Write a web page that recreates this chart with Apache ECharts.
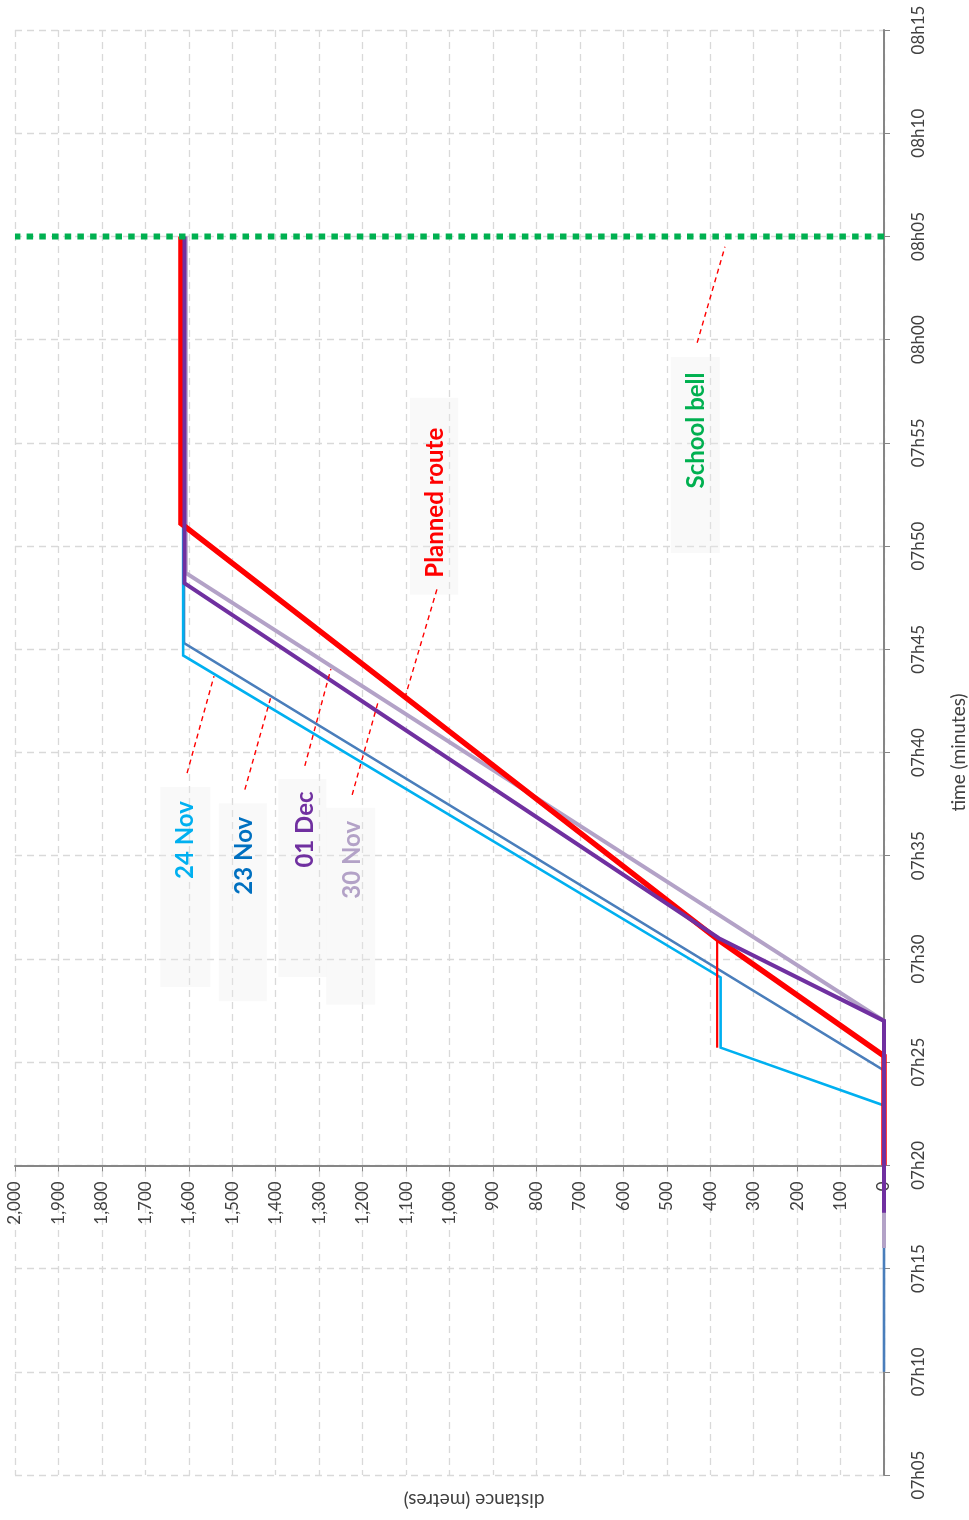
<!DOCTYPE html>
<html>
<head>
<meta charset="utf-8">
<title>Walk to school – distance over time</title>
<script src="https://cdn.jsdelivr.net/npm/echarts@6/dist/echarts.min.js"></script>
<style>
  html, body { margin: 0; padding: 0; background: #ffffff; }
  #chart { width: 969px; height: 1520px; }
</style>
</head>
<body>
<div id="chart"></div>
<script>
// Times are minutes past 07:00, distances in metres.
const AXIS_ORIGIN = 20;           // 07h20: the distance axis crosses here
const timeMin = 5, timeMax = 75;  // 07h05 .. 08h15

const timeLabels = ['07h05', '07h10', '07h15', '07h20', '07h25', '07h30', '07h35',
  '07h40', '07h45', '07h50', '07h55', '08h00', '08h05', '08h10', '08h15'];

const plannedTime = [20, 25.3, 30.9, 51.1, 65];
const plannedDist = [0, 0, 380, 1618, 1618];

const stopTime = [25.7, 30.9];
const stopDist = [384, 384];

const nov24Time = [19, 22.9, 25.7, 29.1, 44.7, 65];
const nov24Dist = [0, 0, 376, 376, 1613, 1613];

const nov23Time = [10, 24.6, 45.3, 65];
const nov23Dist = [0, 0, 1611, 1611];

const nov30Time = [16, 27, 48.7, 65];
const nov30Dist = [0, 0, 1607, 1607];

const dec01Time = [17.7, 27, 31, 48.2, 65];
const dec01Dist = [0, 0, 380, 1610, 1610];

const bellTime = [65, 65];
const bellDist = [0, 2000];

const FONT = 'Lato, "Open Sans", sans-serif';

// plot box
const W = 969, H = 1520;
const PLOT = { left: 15, right: 85, top: 30, bottom: 45 };
const plotH = H - PLOT.top - PLOT.bottom;
// pixel row of 07h20, where the distance axis sits
const crossY = PLOT.top + (timeMax - AXIS_ORIGIN) / (timeMax - timeMin) * plotH;

function pts(dist, time) {
  return dist.map((d, i) => [d, time[i] - AXIS_ORIGIN]);
}

function lineSeries(name, dist, time, color, width, extra) {
  return Object.assign({
    name: name,
    type: 'line',
    xAxisIndex: 0,
    yAxisIndex: 0,
    data: pts(dist, time),
    symbol: 'none',
    animation: false,
    lineStyle: { color: color, width: width, cap: 'butt', join: 'miter' },
    emphasis: { disabled: true }
  }, extra || {});
}

const chart = echarts.init(document.getElementById('chart'), null, { renderer: 'canvas' });

const gridColor = '#d9d9d9';
const axisColor = '#868686';
const labelColor = '#404040';
const dashed = { color: gridColor, width: 1.3, type: [7, 5] };

chart.setOption({
  backgroundColor: '#ffffff',
  animation: false,
  grid: [
    Object.assign({ containLabel: false, outerBoundsMode: 'none' }, PLOT),
    { left: PLOT.left, right: PLOT.right, top: PLOT.top, bottom: H - crossY,
      containLabel: false, outerBoundsMode: 'none' }
  ],
  xAxis: [
    {
      gridIndex: 0,
      type: 'value', inverse: true, min: 0, max: 2000, interval: 100,
      axisLine: { show: false, onZero: false },
      axisTick: { show: false },
      axisLabel: { show: false },
      splitLine: { show: true, lineStyle: dashed }
    },
    {
      // distance axis drawn along the 07h20 row
      gridIndex: 1,
      type: 'value', inverse: true, min: 0, max: 2000, interval: 100,
      position: 'bottom',
      axisLine: { show: true, onZero: false, lineStyle: { color: axisColor, width: 2 } },
      axisTick: { show: true, length: 6, lineStyle: { color: axisColor, width: 1 } },
      axisLabel: {
        rotate: 90,
        margin: 16,
        color: labelColor,
        fontFamily: FONT,
        fontSize: 17,
        formatter: v => v.toLocaleString('en-US')
      },
      splitLine: { show: false }
    }
  ],
  yAxis: [
    {
      gridIndex: 0,
      type: 'value',
      position: 'right',
      min: timeMin - AXIS_ORIGIN,
      max: timeMax - AXIS_ORIGIN,
      interval: 5,
      axisLine: { show: true, onZero: false, lineStyle: { color: axisColor, width: 2 } },
      axisTick: { show: true, length: 6, lineStyle: { color: axisColor, width: 1 } },
      axisLabel: {
        rotate: 90,
        margin: 26,
        color: labelColor,
        fontFamily: FONT,
        fontSize: 17,
        formatter: v => timeLabels[Math.round((v + AXIS_ORIGIN - timeMin) / 5)]
      },
      splitLine: { show: true, lineStyle: dashed },
      name: 'time (minutes)',
      nameLocation: 'middle',
      nameRotate: 90,
      nameGap: 65,
      nameTextStyle: { color: labelColor, fontFamily: FONT, fontSize: 19 }
    },
    {
      gridIndex: 1,
      type: 'value', min: 0, max: 1, show: false
    }
  ],
  series: [
    lineSeries('23 Nov', nov23Dist, nov23Time, '#4a7ebb', 2.6, { z: 2 }),
    lineSeries('24 Nov', nov24Dist, nov24Time, '#00b0f0', 2.6, { z: 3 }),
    lineSeries('Bus stop wait', stopDist, stopTime, '#ff0000', 2.2, { z: 3 }),
    lineSeries('30 Nov', nov30Dist, nov30Time, '#b3a2c7', 4, { z: 4 }),
    lineSeries('Planned route', plannedDist, plannedTime, '#ff0000', 5.5, { z: 5 }),
    lineSeries('01 Dec', dec01Dist, dec01Time, '#7030a0', 4, { z: 6 }),
    lineSeries('School bell', bellDist, bellTime, '#00b050', 6, {
      z: 7,
      lineStyle: { color: '#00b050', width: 6, type: [6.5, 6.2], cap: 'butt' }
    })
  ]
});

// Callout notes: text anchor and leader ends are given as [distance, minutes past 07:00];
// box offsets are in pixels relative to the text anchor.
const notes = [
  { text: '24 Nov', color: '#00b0f0', at: [1608, 35.76], box: [0, 47, 50, 200],
    leader: [[1604, 39.0], [1542, 43.7]] },
  { text: '23 Nov', color: '#0070c0', at: [1472, 35.0], box: [-1.5, 46.5, 48, 198],
    leader: [[1471, 38.2], [1411, 42.7]] },
  { text: '01 Dec', color: '#7030a0', at: [1333, 36.27], box: [-2.5, 48.5, 48, 198],
    leader: [[1333, 39.35], [1273, 44.05]] },
  { text: '30 Nov', color: '#b3a2c7', at: [1224, 34.8], box: [-1.5, 46.5, 49, 197],
    leader: [[1224, 37.95], [1165, 42.4]] },
  { text: 'Planned route', color: '#ff0000', at: [1032, 52.1], box: [-1.5, -6.5, 48, 197],
    leader: [[1029, 47.9], [1102, 42.7]] },
  { text: 'School bell', color: '#00b050', at: [433, 55.6], box: [-0.5, 24.5, 49, 196],
    leader: [[430, 59.85], [366, 64.5]] }
];

function toPx(p) {
  return chart.convertToPixel({ xAxisIndex: 0, yAxisIndex: 0 }, [p[0], p[1] - AXIS_ORIGIN]);
}

const graphics = [];
notes.forEach(n => {
  const c = toPx(n.at);
  graphics.push({
    type: 'rect',
    x: c[0] + n.box[0],
    y: c[1] + n.box[1],
    shape: { x: -n.box[2] / 2, y: -n.box[3] / 2, width: n.box[2], height: n.box[3] },
    style: { fill: 'rgba(236,236,236,0.32)' },
    z: 1
  });
  graphics.push({
    type: 'text',
    x: c[0],
    y: c[1],
    rotation: Math.PI / 2,
    style: {
      text: n.text,
      fill: n.color,
      font: 'bold 24px ' + FONT,
      textAlign: 'center',
      textVerticalAlign: 'middle'
    },
    z: 10
  });
  const a = toPx(n.leader[0]);
  const b = toPx(n.leader[1]);
  graphics.push({
    type: 'line',
    shape: { x1: a[0], y1: a[1], x2: b[0], y2: b[1] },
    style: { stroke: '#ff0000', lineWidth: 1.4, lineDash: [5, 4] },
    z: 10
  });
});

// Horizontal-axis title, drawn upside down below the plot
graphics.push({
  type: 'text',
  x: 474,
  y: 1500,
  rotation: Math.PI,
  style: {
    text: 'distance (metres)',
    fill: labelColor,
    font: '19px ' + FONT,
    textAlign: 'center',
    textVerticalAlign: 'middle'
  }
});

chart.setOption({ graphic: graphics });
</script>
</body>
</html>
